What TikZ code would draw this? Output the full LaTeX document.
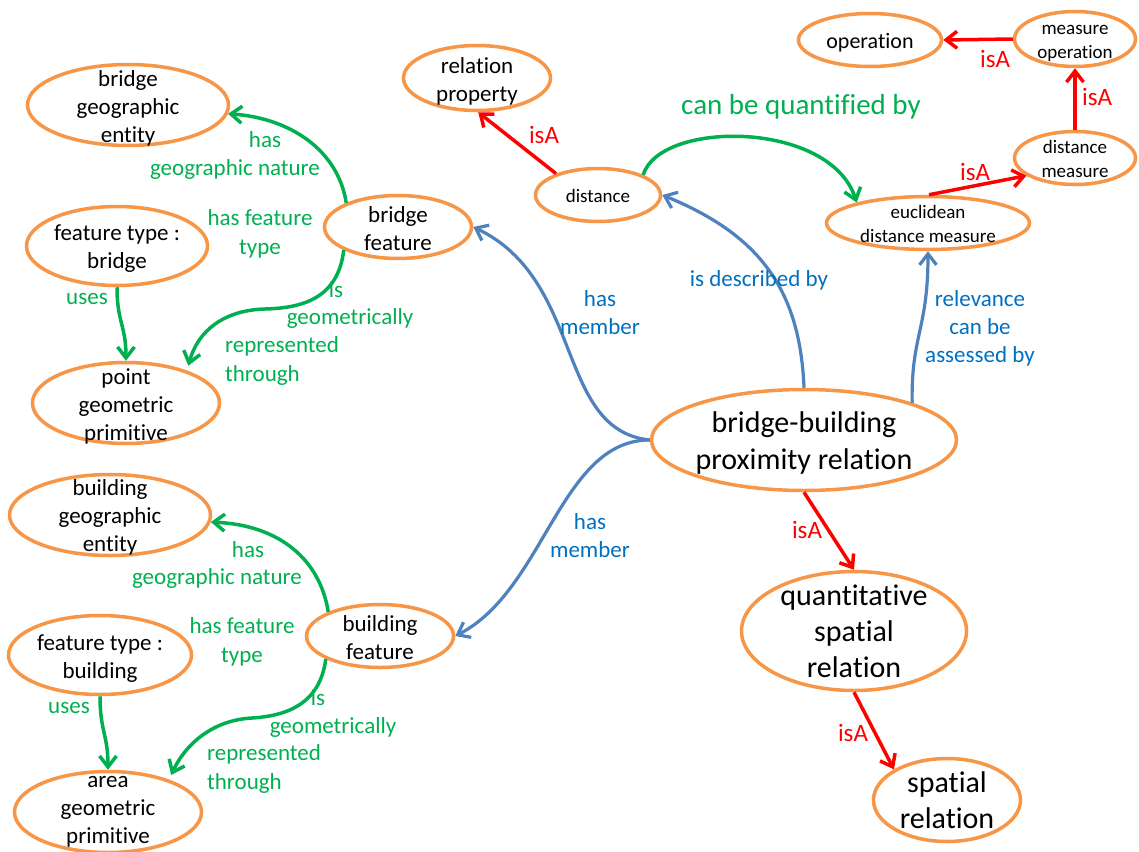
\documentclass[tikz,border=0pt]{standalone}
\usepackage{fontspec}
\setmainfont{Carlito}[Ligatures=NoCommon]
\usetikzlibrary{shapes.geometric,arrows.meta}
\definecolor{orr}{HTML}{F79646}
\definecolor{bline}{HTML}{4F81BD}
\definecolor{btext}{HTML}{0070C0}
\definecolor{grn}{HTML}{00B050}
\definecolor{rd}{HTML}{FF0000}
\tikzset{
  oval/.style={ellipse, draw=orr, line width=3.5pt, inner sep=0pt, fill=white},
  nt/.style={align=center, inner sep=0pt, text=black, yshift=-3pt, font=\fontsize{23}{28}\selectfont},
  ntbig/.style={align=center, inner sep=0pt, text=black, font=\fontsize{30}{37}\selectfont},
  ntsm/.style={align=center, inner sep=0pt, text=black, yshift=-1pt, font=\fontsize{19}{24}\selectfont},
  gl/.style={align=center, inner sep=0pt, text=grn, font=\fontsize{23}{29}\selectfont},
  bl/.style={align=center, inner sep=0pt, text=btext, font=\fontsize{23}{28}\selectfont},
  rl/.style={align=center, inner sep=0pt, text=rd, font=\fontsize{25}{30}\selectfont},
  conn/.style={line width=3.5pt, -{Straight Barb[length=11pt,width=17pt]}},
  bluearr/.style={conn, line width=3.2pt, draw=bline},
  grnarr/.style={conn, draw=grn},
  redarr/.style={conn, draw=rd},
}
\begin{document}
\begin{tikzpicture}[x=1pt,y=-1pt]
\fill[white] (0,0) rectangle (1139,851);
\useasboundingbox (0,0) rectangle (1139,851);

% ---- nodes (ellipses) ----
\node[oval, minimum width=201pt, minimum height=81pt] (bge) at (128,105) {};
\node[nt] (bge-t) at (bge) {bridge\\geographic\\entity};
\node[oval, minimum width=181pt, minimum height=79pt] (ftb) at (117,246) {};
\node[nt] (ftb-t) at (ftb) {feature type :\\bridge};
\node[oval, minimum width=187pt, minimum height=81pt] (pgp) at (126,403) {};
\node[nt] (pgp-t) at (pgp) {point\\geometric\\primitive};
\node[oval, minimum width=147pt, minimum height=63pt] (bf) at (398,227) {};
\node[nt, yshift=1pt] (bf-t) at (bf) {bridge\\feature};
\node[oval, minimum width=147pt, minimum height=65pt] (rp) at (477,78) {};
\node[nt] (rp-t) at (rp) {relation\\property};
\node[oval, minimum width=125pt, minimum height=53pt] (dist) at (598,195) {};
\node[ntsm] (dist-t) at (dist) {distance};
\node[oval, minimum width=143pt, minimum height=53pt] (op) at (870,40) {};
\node[nt, font=\fontsize{22}{27}\selectfont] (op-t) at (op) {operation};
\node[oval, minimum width=121pt, minimum height=55pt] (mop) at (1075,39) {};
\node[ntsm, yshift=-3pt] (mop-t) at (mop) {measure\\operation};
\node[oval, minimum width=121pt, minimum height=53pt] (dm) at (1075,158) {};
\node[ntsm] (dm-t) at (dm) {distance\\measure};
\node[oval, minimum width=203pt, minimum height=53pt] (edm) at (928,223) {};
\node[ntsm] (edm-t) at (edm) {euclidean\\distance measure};
\node[oval, minimum width=305pt, minimum height=101pt] (bbpr) at (804,440) {};
\node[ntbig, yshift=-3pt] (bbpr-t) at (bbpr) {bridge-building\\proximity relation};
\node[oval, minimum width=225pt, minimum height=119pt] (qsr) at (854,631) {};
\node[ntbig, font=\fontsize{30}{36}\selectfont] (qsr-t) at (qsr) {quantitative\\spatial\\relation};
\node[oval, minimum width=147pt, minimum height=83pt] (sr) at (947,800) {};
\node[ntbig, font=\fontsize{30}{36}\selectfont] (sr-t) at (sr) {spatial\\relation};
\node[oval, minimum width=201pt, minimum height=81pt] (bldge) at (110,515) {};
\node[nt, yshift=1pt] (bldge-t) at (bldge) {building\\geographic\\entity};
\node[oval, minimum width=183pt, minimum height=79pt] (ftbl) at (100,655) {};
\node[nt, yshift=-1pt] (ftbl-t) at (ftbl) {feature type :\\building};
\node[oval, minimum width=187pt, minimum height=81pt] (agp) at (108,812) {};
\node[nt, yshift=3pt] (agp-t) at (agp) {area\\geometric\\primitive};
\node[oval, minimum width=147pt, minimum height=63pt] (blf) at (380,636) {};
\node[nt, yshift=1pt] (blf-t) at (blf) {building\\feature};

% ---- blue connectors ----
\draw[bluearr] (bbpr.180) .. controls (555,430) and (585,280) .. (bf.0);
\draw[bluearr] (bbpr.180) .. controls (560,440) and (545,590) .. (blf.0);
\draw[bluearr] (bbpr.90) .. controls (800,290) and (760,235) .. (dist.0);
\draw[bluearr] (bbpr.19) .. controls (911,335) and (928,330) .. (edm.270);

% ---- red connectors ----
\draw[redarr] (dist.153) -- (rp.272);
\draw[redarr] (mop.180) -- (op.0);
\draw[redarr] (dm.90) -- (mop.270);
\draw[redarr] (edm.88) -- (dm.200);
\draw[redarr] (bbpr.270) -- (qsr.90);
\draw[redarr] (qsr.270) -- (sr.150);

% ---- green connectors ----
\draw[grnarr] (dist.24) .. controls (660,120) and (830,120) .. (edm.164);
\draw[grnarr] (bf.155) .. controls (338,150) and (290,118) .. (bge.355);
\draw[grnarr, shorten >=5pt] (bf.203) .. controls (338,300) and (300,308) .. (265,309) .. controls (225,310) and (198,330) .. (pgp.28);
\draw[grnarr] (ftb.270) .. controls +(0,35) and +(0,-35) .. (pgp.90);
\draw[grnarr] (blf.155) .. controls (320,560) and (280,525) .. (bldge.356);
\draw[grnarr, shorten >=5pt] (blf.203) .. controls (320,705) and (285,716) .. (252,718) .. controls (212,720) and (185,745) .. (agp.28);
\draw[grnarr] (ftbl.270) .. controls +(0,35) and +(0,-35) .. (agp.90);

% ---- green labels ----
\node[gl] (g1a) at (265,140) {has};
\node[gl] (g1b) at (235,169) {geographic nature};
\node[gl] (g2) at (260,233.5) {has feature\\type};
\node[gl] (g3a) at (336,290) {is};
\node[gl] (g3b) at (350,318) {geometrically};
\node[gl, anchor=west, align=left] (g3c) at (225,360.5) {represented\\through};
\node[gl] (g4) at (87,299) {uses};
\node[gl] (g5a) at (248,550) {has};
\node[gl] (g5b) at (217,578) {geographic nature};
\node[gl] (g6) at (242,642) {has feature\\type};
\node[gl] (g7a) at (318,698) {is};
\node[gl] (g7b) at (333,727) {geometrically};
\node[gl, anchor=west, align=left] (g7c) at (207,768.5) {represented\\through};
\node[gl] (g8) at (69,708) {uses};
\node[gl, font=\fontsize{29}{35}\selectfont] (g9) at (801,107) {can be quantified by};

% ---- blue labels ----
\node[bl] (b1) at (600,313) {has\\member};
\node[bl] (b2) at (759,280) {is described by};
\node[bl] (b3) at (980,328) {relevance\\can be\\assessed by};
\node[bl] (b4) at (590,536) {has\\member};

% ---- red labels ----
\node[rl] (r1) at (544,135) {isA};
\node[rl] (r2) at (995,59) {isA};
\node[rl] (r3) at (1097,97) {isA};
\node[rl] (r4) at (975,172) {isA};
\node[rl] (r5) at (807,530) {isA};
\node[rl] (r6) at (853,733) {isA};
\end{tikzpicture}
\end{document}
